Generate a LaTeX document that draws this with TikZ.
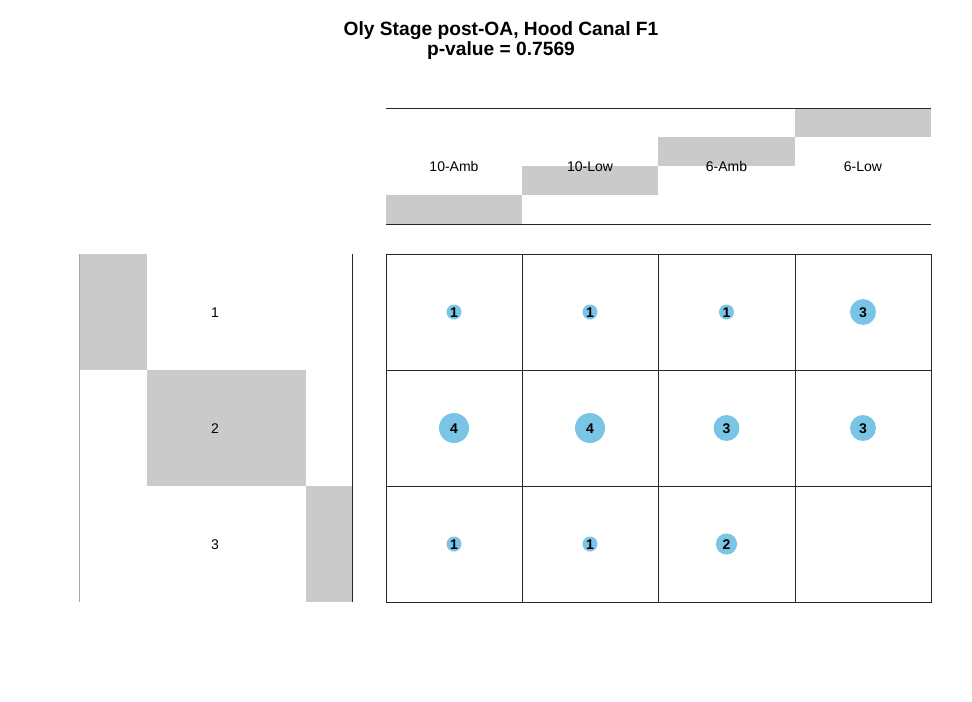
\documentclass[tikz,border=0pt]{standalone}
\usepackage{fontspec}
\setmainfont{Liberation Sans}
\definecolor{bubble}{RGB}{122,196,230}
\definecolor{barfill}{RGB}{202,202,202}
\begin{document}
\begin{tikzpicture}[x=0.75pt,y=-0.75pt,
  rule/.style={draw=black!85,line width=0.75pt},
  lab/.style={font=\fontsize{10.5}{12}\selectfont,text height=1.6ex,text depth=0ex},
  cnt/.style={circle,fill=bubble,inner sep=0pt,text height=1.6ex,text depth=0ex,font=\bfseries\fontsize{10.5}{12}\selectfont}]
  \useasboundingbox (0,0) rectangle (972,701);

  % title
  \node [font=\bfseries\fontsize{14.4}{17}\selectfont] (title) at (501,31) {Oly Stage post-OA, Hood Canal F1};
  \node [font=\bfseries\fontsize{14.4}{17}\selectfont] (pval) at (501,51) {p-value = 0.7569};

  % column margin
  \fill [barfill] (386,195) rectangle (522,224);
  \fill [barfill] (522,166) rectangle (658,195);
  \fill [barfill] (658,137) rectangle (795,166);
  \fill [barfill] (795,108) rectangle (931,137);
  \draw [rule] (386,108) -- (931,108);
  \draw [rule] (386,224) -- (931,224);
  \node [lab] (C1) at (454,166) {10-Amb};
  \node [lab] (C2) at (590,166) {10-Low};
  \node [lab] (C3) at (726.5,166) {6-Amb};
  \node [lab] (C4) at (863,166) {6-Low};

  % row margin
  \fill [barfill] (79,254) rectangle (147,370);
  \fill [barfill] (147,370) rectangle (306,486);
  \fill [barfill] (306,486) rectangle (352,602);
  \draw [draw=black!35,line width=0.75pt] (79,254) -- (79,602);
  \draw [rule] (352,254) -- (352,602);
  \node [lab] (R1) at (215,312) {1};
  \node [lab] (R2) at (215,428) {2};
  \node [lab] (R3) at (215,544) {3};

  % table
  \draw [rule] (386,254) rectangle (931,602);
  \draw [rule] (386,370) -- (931,370);
  \draw [rule] (386,486) -- (931,486);
  \draw [rule] (522,254) -- (522,602);
  \draw [rule] (658,254) -- (658,602);
  \draw [rule] (795,254) -- (795,602);

  % counts
  \foreach \x/\y/\n/\id in {454/312/1/A1, 590/312/1/B1, 726.5/312/1/C1, 863/312/3/D1,
                            454/428/4/A2, 590/428/4/B2, 726.5/428/3/C2, 863/428/3/D2,
                            454/544/1/A3, 590/544/1/B3, 726.5/544/2/C3}
    \node [cnt,minimum size={11.25pt*sqrt(\n)}] (n\id) at (\x,\y) {\n};
\end{tikzpicture}
\end{document}
